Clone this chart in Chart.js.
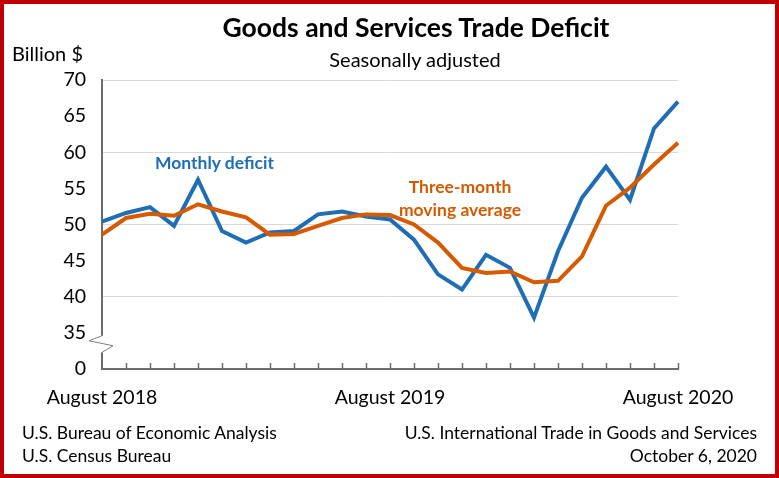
<!DOCTYPE html>
<html>
<head>
<meta charset="utf-8">
<script src="https://cdn.jsdelivr.net/npm/chart.js@4"></script>
<style>
  html, body { margin: 0; padding: 0; background: #fff; }
  #wrap { position: relative; width: 779px; height: 478px; overflow: hidden; font-family: Lato, "Noto Sans", sans-serif; color: #000; }
  #wrap canvas { position: absolute; left: 0; top: 0; }
  .txt { position: absolute; white-space: nowrap; line-height: 1; }
  #frame { position: absolute; left: 0; top: 0; width: 779px; height: 478px; box-sizing: border-box; border: 4px solid #c00000; pointer-events: none; }
</style>
</head>
<body>
<div id="wrap">
  <canvas id="chart" width="779" height="478"></canvas>
  <div class="txt" style="left:0;width:832px;top:14px;text-align:center;font-weight:bold;font-size:26.5px;">Goods and Services Trade Deficit</div>
  <div class="txt" style="left:0;width:830px;top:49px;text-align:center;font-size:20px;">Seasonally adjusted</div>
  <div class="txt" style="left:12px;top:43px;font-size:20px;">Billion $</div>
  <div class="txt" style="left:155px;top:154px;font-weight:bold;font-size:17.5px;color:#1f6eb5;">Monthly deficit</div>
  <div class="txt" style="left:360px;width:200px;top:175px;text-align:center;font-weight:bold;font-size:17.5px;color:#d45a00;line-height:23px;">Three-month<br>moving average</div>
  <div class="txt" style="left:22px;top:424px;font-size:17.5px;">U.S. Bureau of Economic Analysis</div>
  <div class="txt" style="left:22px;top:447px;font-size:17.5px;">U.S. Census Bureau</div>
  <div class="txt" style="right:22px;top:424px;font-size:17.5px;text-align:right;">U.S. International Trade in Goods and Services</div>
  <div class="txt" style="right:22px;top:447px;font-size:17.5px;text-align:right;">October 6, 2020</div>
  <div id="frame"></div>
</div>
<script>
//Months, August 2018 to August 2020
const months = [
  "August 2018", "September 2018", "October 2018", "November 2018", "December 2018",
  "January 2019", "February 2019", "March 2019", "April 2019", "May 2019", "June 2019",
  "July 2019", "August 2019", "September 2019", "October 2019", "November 2019",
  "December 2019", "January 2020", "February 2020", "March 2020", "April 2020",
  "May 2020", "June 2020", "July 2020", "August 2020",
];
//Billion $
const monthlyDeficit = [
  50.4, 51.6, 52.4, 49.8, 56.2, 49.1, 47.5, 48.9, 49.1, 51.4, 51.8, 51.1, 50.7,
  47.9, 43.1, 41.0, 45.8, 44.0, 37.1, 46.3, 53.7, 58.0, 53.4, 63.3, 67.0,
];
const movingAverage = [
  48.6, 50.9, 51.5, 51.2, 52.8, 51.8, 51.0, 48.6, 48.7, 49.8, 50.9, 51.4, 51.3,
  50.0, 47.5, 44.0, 43.3, 43.5, 42.0, 42.2, 45.6, 52.6, 55.1, 58.3, 61.3,
];
//y ticks; the bottom one stands for 0 below the axis break
const yTicks = [30, 35, 40, 45, 50, 55, 60, 65, 70];
const shownMonths = ["August 2018", "August 2019", "August 2020"];

const axisColor = "#6b6b6b";

//Month tick marks pointing up and the break on the y axis
const decorations = {
  id: "decorations",
  afterDraw(chart) {
    const ctx = chart.ctx;
    const x = chart.scales.x;
    const y = chart.scales.y;
    const bottom = chart.chartArea.bottom;
    ctx.save();
    ctx.strokeStyle = axisColor;
    ctx.lineWidth = 1.5;
    for (let i = 1; i < months.length; i++) {
      const px = Math.round(x.getPixelForValue(i)) + 0.5;
      ctx.beginPath();
      ctx.moveTo(px, bottom);
      ctx.lineTo(px, bottom - 6);
      ctx.stroke();
    }
    //axis break
    const ax = chart.chartArea.left;
    const top = y.getPixelForValue(34.6);
    const low = y.getPixelForValue(32.3);
    ctx.fillStyle = "#fff";
    ctx.fillRect(ax - 3, top, 6, low - top);
    ctx.lineWidth = 1;
    ctx.strokeStyle = "#7f7f7f";
    const h = low - top;
    ctx.beginPath();
    ctx.moveTo(ax, top);
    ctx.lineTo(ax - 13, top + h * 0.3);
    ctx.lineTo(ax + 11, top + h * 0.6);
    ctx.lineTo(ax, low);
    ctx.stroke();
    ctx.restore();
  },
};

const ctx = document.getElementById("chart").getContext("2d");
const chart = new Chart(ctx, {
  type: "line",
  data: {
    labels: months,
    datasets: [
      {
        label: "Three-month moving average",
        data: movingAverage,
        borderColor: "#d65a00",
        borderWidth: 4,
        pointRadius: 0,
        tension: 0,
      },
      {
        label: "Monthly deficit",
        data: monthlyDeficit,
        borderColor: "#1f6eb5",
        borderWidth: 4,
        pointRadius: 0,
        tension: 0,
      },
    ],
  },
  options: {
    responsive: false,
    animation: false,
    layout: {
      padding: { top: 80, right: 101, bottom: 0, left: 0 },
    },
    plugins: {
      legend: { display: false },
      tooltip: { enabled: false },
    },
    scales: {
      x: {
        offset: false,
        grid: { display: false },
        border: { color: axisColor, width: 2 },
        ticks: {
          autoSkip: false,
          maxRotation: 0,
          padding: 9,
          color: "#000",
          font: { family: "Lato", size: 19.5 },
          callback: function (value) {
            const name = months[value];
            return shownMonths.includes(name) ? name : "";
          },
        },
        afterFit(scale) {
          scale.height = 109;
        },
      },
      y: {
        min: 30,
        max: 70,
        afterBuildTicks(scale) {
          scale.ticks = yTicks.map((v) => ({ value: v }));
        },
        grid: {
          drawTicks: false,
          color: (c) =>
            c.tick && c.tick.value % 10 === 0 && c.tick.value !== 30 ? "#d9d9d9" : "rgba(0,0,0,0)",
          lineWidth: 1,
        },
        border: { color: axisColor, width: 2 },
        ticks: {
          padding: 16,
          color: "#000",
          font: { family: "Lato", size: 19.5 },
          callback: (v) => (v === 30 ? "0" : v),
        },
        afterFit(scale) {
          scale.width = 102;
        },
      },
    },
  },
  plugins: [decorations],
});
</script>
</body>
</html>
